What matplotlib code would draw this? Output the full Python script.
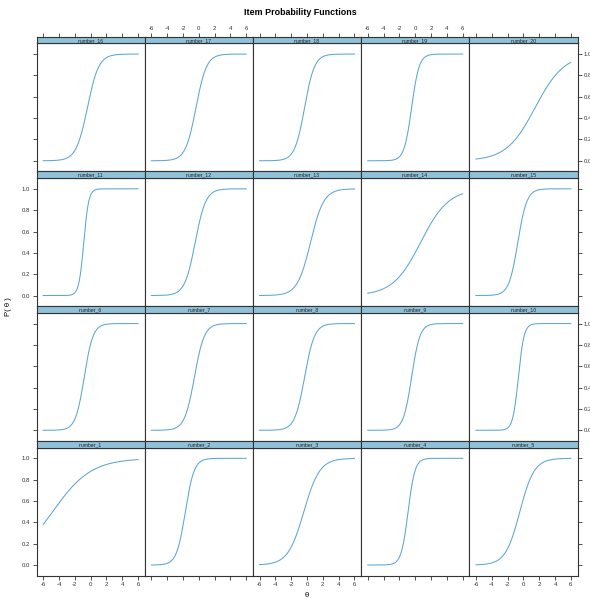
import numpy as np
import matplotlib
matplotlib.use('Agg')
import matplotlib.pyplot as plt

plt.rcParams['axes.unicode_minus'] = False

# ---- data: 2PL item parameters ----
item_names = [f"number_{i}" for i in range(1, 21)]
slopes = [0.41, 1.8, 1.0, 2.3, 1.1,
          1.8, 1.6, 1.6, 1.9, 2.8,
          3.2, 1.5, 1.2, 0.57, 1.76,
          1.4, 1.5, 1.6, 2.1, 0.55]
difficulty = [-4.8, -1.7, -0.4, -0.9, -0.45,
              -0.8, -0.55, -0.3, -0.45, -0.63,
              -0.86, -0.45, 0.45, 0.7, -0.7,
              -0.4, -0.35, -0.3, -0.45, 1.5]
theta_grid = np.linspace(-6, 6, 200)
x_ticks = [-6, -4, -2, 0, 2, 4, 6]
x_ticklabels = ["-6", "-4", "-2", "0", "2", "4", "6"]
y_ticks = [0.0, 0.2, 0.4, 0.6, 0.8, 1.0]
y_ticklabels = ["0.0", "0.2", "0.4", "0.6", "0.8", "1.0"]

FONT = 'Liberation Sans'
W, H = 590, 599
fig = plt.figure(figsize=(W / 100, H / 100), dpi=100)

LINE_COL = '#5aa6d4'
STRIP_COL = '#8fc1d8'
BORDER = '#333333'

left0, top0 = 36.5, 36.7
pw, ph = 108.2, 134.75
sh = 6.7

def fx(p):
    return p / W

def fy(p):
    return 1 - p / H

tick_kw = dict(length=2.6, width=0.6, color=BORDER, labelsize=4.3, pad=1.8,
               labelcolor='#333333')

for r in range(4):
    for c in range(5):
        idx = (3 - r) * 5 + c
        left = left0 + pw * c
        top = top0 + ph * r
        ax = fig.add_axes([fx(left), fy(top + ph), pw / W, (ph - sh) / H])
        sax = fig.add_axes([fx(left), fy(top + sh), pw / W, sh / H])

        p = 1.0 / (1.0 + np.exp(-slopes[idx] * (theta_grid - difficulty[idx])))
        ax.plot(theta_grid, p, color=LINE_COL, lw=0.75)
        ax.set_xlim(-6.84, 6.84)
        ax.set_ylim(-0.1, 1.1)
        sax.set_xlim(-6.84, 6.84)
        sax.set_ylim(0, 1)
        sax.set_facecolor(STRIP_COL)
        sax.text(0, 0.45, item_names[idx], ha='center', va='center',
                 fontsize=3.7, family=FONT, color='#222222')
        for a in (ax, sax):
            for s in a.spines.values():
                s.set_color(BORDER)
                s.set_linewidth(0.8)

        sax.set_yticks([])
        if r == 0:
            sax.set_xticks(x_ticks)
            sax.set_xticklabels(x_ticklabels)
            sax.tick_params(axis='x', which='both', bottom=False, top=True,
                            labelbottom=False, labeltop=(c % 2 == 1),
                            direction='out', **tick_kw)
            for lab in sax.get_xticklabels():
                lab.set_family(FONT)
        else:
            sax.set_xticks([])

        ax.set_xticks(x_ticks)
        ax.set_xticklabels(x_ticklabels)
        if r == 3:
            ax.tick_params(axis='x', bottom=True, top=False,
                           labelbottom=(c % 2 == 0), labeltop=False,
                           direction='out', **tick_kw)
        else:
            ax.tick_params(axis='x', bottom=False, top=False,
                           labelbottom=False, labeltop=False)
        ax.set_yticks(y_ticks)
        ax.set_yticklabels(y_ticklabels)
        show_left = (c == 0)
        show_right = (c == 4)
        ax.tick_params(axis='y', left=show_left, right=show_right,
                       labelleft=(show_left and r % 2 == 1),
                       labelright=(show_right and r % 2 == 0),
                       direction='out', **tick_kw)
        for lab in ax.get_xticklabels() + ax.get_yticklabels():
            lab.set_family(FONT)

fig.text(fx(300), fy(12.7), "Item Probability Functions", ha='center',
         va='center', fontsize=6.4, fontweight='bold', family=FONT)
fig.text(fx(307), fy(595.5), "θ", ha='center', va='center',
         fontsize=5.5, family=FONT)
fig.text(fx(9), fy(307), "P( θ )", ha='center', va='center',
         fontsize=5.5, family=FONT, rotation=90)

fig.savefig('out.png', dpi=100)
